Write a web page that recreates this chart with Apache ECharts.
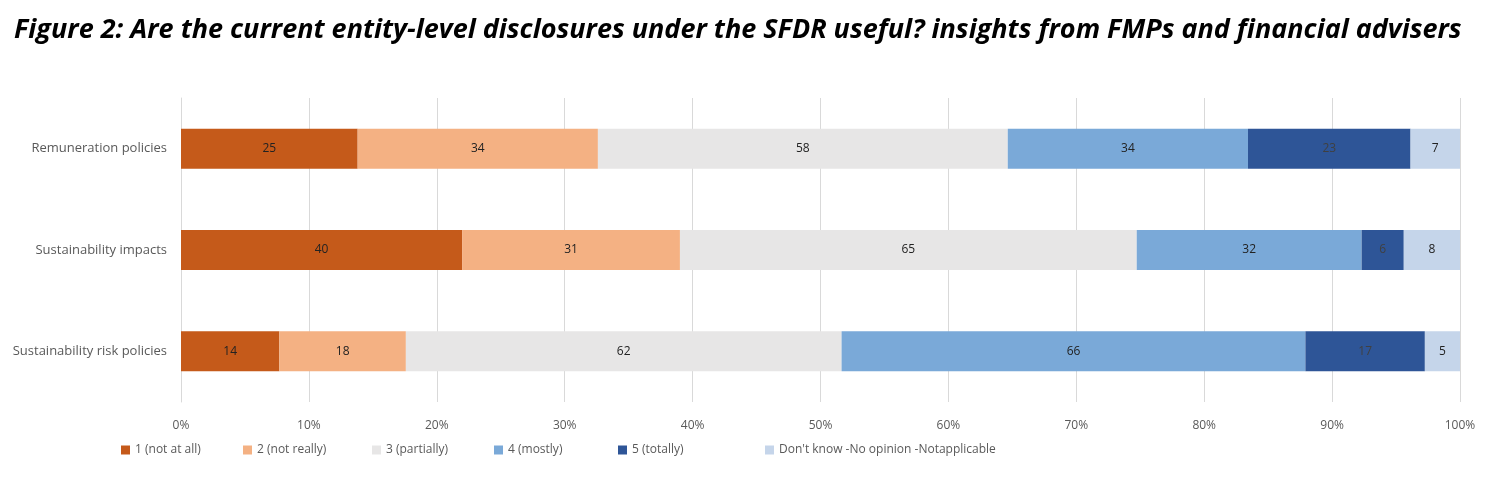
<!DOCTYPE html>
<html>
<head>
<meta charset="utf-8">
<script src="https://cdn.jsdelivr.net/npm/echarts@6/dist/echarts.min.js"></script>
<style>
  html, body { margin: 0; padding: 0; background: #fff; }
  #chart { width: 1492px; height: 490px; }
</style>
</head>
<body>
<div id="chart"></div>
<script>
// categories, top to bottom
var categories = ['Remuneration policies', 'Sustainability impacts', 'Sustainability risk policies']
var seriesNames = ['1 (not at all)', '2 (not really)', '3 (partially)', '4 (mostly)', '5 (totally)', "Don't know -No opinion -Notapplicable"]
// answer counts per category (same order as categories)
var notAtAll = [25, 40, 14]
var notReally = [34, 31, 18]
var partially = [58, 65, 62]
var mostly = [34, 32, 66]
var totally = [23, 6, 17]
var dontKnow = [7, 8, 5]
var colors = ['#C55A1A', '#F4B183', '#E7E6E6', '#7AA9D8', '#2E5597', '#C5D5EA']

var counts = [notAtAll, notReally, partially, mostly, totally, dontKnow]
var totals = categories.map(function (c, i) {
  var s = 0
  counts.forEach(function (arr) { s += arr[i] })
  return s
})

var chart = echarts.init(document.getElementById('chart'))
var series = counts.map(function (arr, k) {
  return {
    name: seriesNames[k],
    type: 'bar',
    stack: 'total',
    barWidth: 40,
    itemStyle: { color: colors[k] },
    label: {
      show: true,
      position: 'inside',
      color: k === 4 ? '#404040' : '#222',
      fontFamily: 'Open Sans',
      fontSize: 12,
      formatter: function (p) { return arr[p.dataIndex] }
    },
    data: arr.map(function (v, i) { return v / totals[i] * 100 })
  }
})

// one legend per item so each sits where the original puts it
var legendX = [116, 238, 367, 489, 613, 760]
var legends = seriesNames.map(function (n, k) {
  return {
    bottom: 29,
    left: legendX[k],
    itemWidth: 9,
    itemHeight: 9,
    icon: 'rect',
    textStyle: { color: '#595959', fontSize: 12, fontFamily: 'Open Sans' },
    data: [n]
  }
})

var option = {
  animation: false,
  title: {
    text: 'Figure 2: Are the current entity-level disclosures under the SFDR useful? insights from FMPs and financial advisers',
    left: 9,
    top: 12,
    textStyle: {
      fontFamily: 'Open Sans',
      fontStyle: 'italic',
      fontWeight: 'bold',
      fontSize: 27,
      color: '#000'
    }
  },
  grid: { left: 181, right: 32, top: 98, bottom: 88 },
  legend: legends,
  xAxis: {
    type: 'value',
    min: 0,
    max: 100,
    interval: 10,
    axisLabel: {
      color: '#595959',
      fontSize: 12,
      fontFamily: 'Open Sans',
      margin: 18,
      formatter: '{value}%'
    },
    splitLine: { lineStyle: { color: '#D9D9D9' } },
    axisLine: { show: false },
    axisTick: { show: false }
  },
  yAxis: {
    type: 'category',
    inverse: true,
    data: categories,
    axisLabel: { color: '#595959', fontSize: 13, fontFamily: 'Open Sans', margin: 14 },
    axisLine: { show: true, lineStyle: { color: '#D9D9D9' } },
    axisTick: { show: false }
  },
  series: series
}
chart.setOption(option)
</script>
</body>
</html>
